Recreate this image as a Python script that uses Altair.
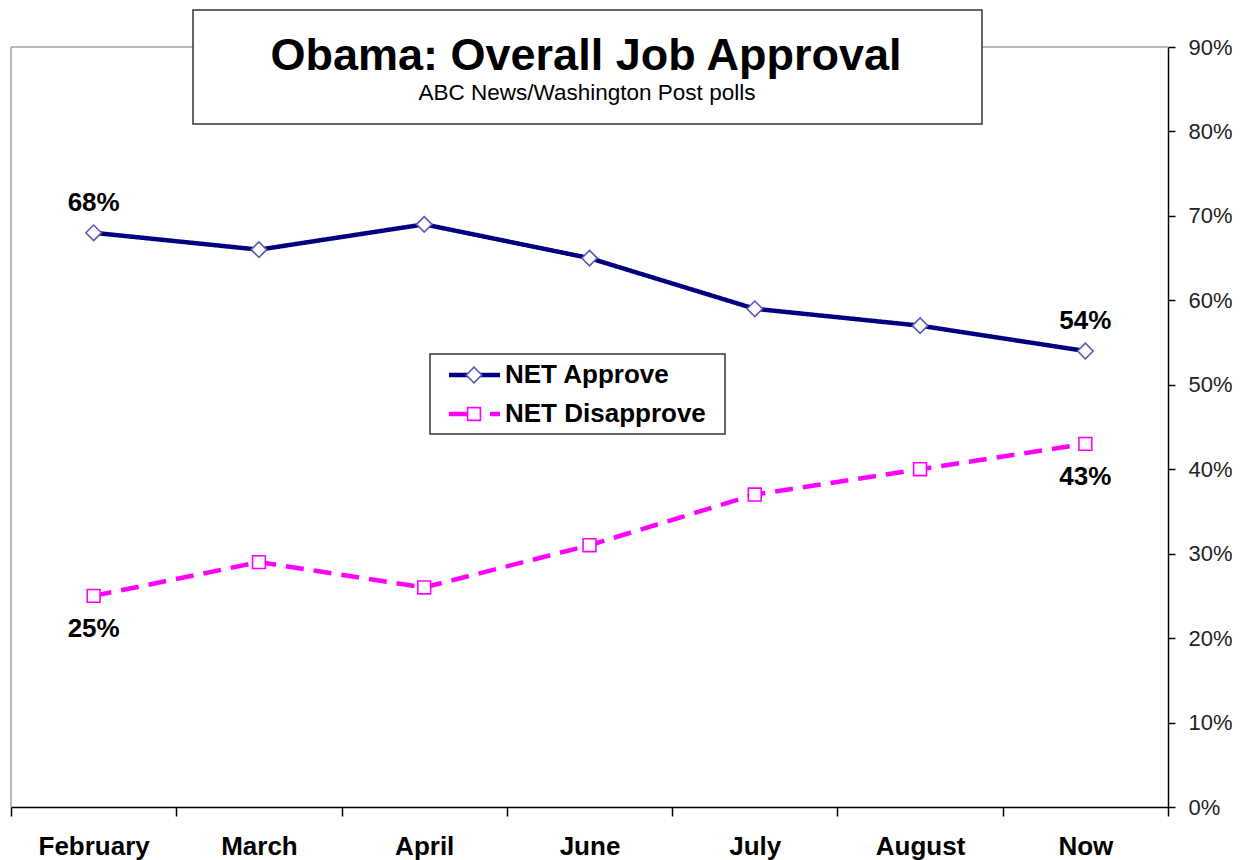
import altair as alt
import pandas as pd

months = ["February", "March", "April", "June", "July", "August", "Now"]
approve = [68, 66, 69, 65, 59, 57, 54]
disapprove = [25, 29, 26, 31, 37, 40, 43]
series_names = ["NET Approve", "NET Disapprove"]
y_ticks = [0, 10, 20, 30, 40, 50, 60, 70, 80, 90]
title_text = "Obama: Overall Job Approval"
subtitle_text = "ABC News/Washington Post polls"

FONT = "Liberation Sans"
NAVY = "#000080"
MAGENTA = "#ff00ff"
DIAMOND_STROKE = "#5a5ab4"

rows = []
for i, m in enumerate(months):
    rows.append({"month": m, "series": series_names[0], "value": approve[i]})
    rows.append({"month": m, "series": series_names[1], "value": disapprove[i]})
df = pd.DataFrame(rows)

above = pd.DataFrame([
    {"month": months[0], "value": approve[0], "label": f"{approve[0]}%"},
    {"month": months[-1], "value": approve[-1], "label": f"{approve[-1]}%"},
])
below = pd.DataFrame([
    {"month": months[0], "value": disapprove[0], "label": f"{disapprove[0]}%"},
    {"month": months[-1], "value": disapprove[-1], "label": f"{disapprove[-1]}%"},
])

x_enc = alt.X(
    "month:N", sort=months, bandPosition=0.5,
    scale=alt.Scale(type="band", paddingInner=0, paddingOuter=0),
    axis=alt.Axis(orient="bottom", title=None, labelAngle=0, tickBand="extent",
                  domainColor="black", domainWidth=1.5, tickColor="black",
                  tickWidth=1.5, tickSize=9, labelFont=FONT, labelFontSize=26,
                  labelFontWeight="bold", labelColor="black", labelPadding=17,
                  grid=False),
)
y_enc = alt.Y(
    "value:Q", scale=alt.Scale(domain=[0, 90], nice=False, zero=True),
    axis=alt.Axis(orient="right", title=None, values=y_ticks,
                  labelExpr="datum.value + '%'", domainColor="black",
                  domainWidth=1.5, tickColor="black", tickWidth=1.5, tickSize=7,
                  labelFont=FONT, labelFontSize=22, labelColor="#222222",
                  labelPadding=13, grid=False),
)

one = alt.Data(values=[{"k": 0}])

top_border = alt.Chart(one).mark_rule(color="#a0a0a0", strokeWidth=1.5).encode(
    x=alt.value(0), x2=alt.value(1157), y=alt.value(0))
left_border = alt.Chart(one).mark_rule(color="#a0a0a0", strokeWidth=1.5).encode(
    x=alt.value(0), y=alt.value(0), y2=alt.value(760))

lines = alt.Chart(df).mark_line(strokeWidth=4.5).encode(
    x=x_enc, y=y_enc,
    color=alt.Color("series:N", scale=alt.Scale(domain=series_names, range=[NAVY, MAGENTA]), legend=None),
    strokeDash=alt.StrokeDash("series:N", scale=alt.Scale(domain=series_names, range=[[1, 0], [18, 10]]), legend=None),
    detail="series:N",
)

points = alt.Chart(df).mark_point(filled=False, fill="white", fillOpacity=1, opacity=1, strokeWidth=1.6).encode(
    x=x_enc, y=y_enc,
    shape=alt.Shape("series:N", scale=alt.Scale(domain=series_names, range=["diamond", "square"]), legend=None),
    stroke=alt.Stroke("series:N", scale=alt.Scale(domain=series_names, range=[DIAMOND_STROKE, MAGENTA]), legend=None),
    size=alt.Size("series:N", scale=alt.Scale(domain=series_names, range=[240, 165]), legend=None),
)

labels_above = alt.Chart(above).mark_text(font=FONT, fontSize=26, fontWeight="bold", color="black", dy=-30).encode(
    x=x_enc, y=y_enc, text="label:N")
labels_below = alt.Chart(below).mark_text(font=FONT, fontSize=26, fontWeight="bold", color="black", dy=33).encode(
    x=x_enc, y=y_enc, text="label:N")

title_box = alt.Chart(one).mark_rect(fill="white", stroke="#333333", strokeWidth=1.5).encode(
    x=alt.value(182), x2=alt.value(971), y=alt.value(-37), y2=alt.value(77))
title = alt.Chart(one).mark_text(text=title_text, font=FONT, fontSize=45, fontWeight="bold",
                                 color="black", align="center", baseline="alphabetic").encode(
    x=alt.value(575), y=alt.value(23))
subtitle = alt.Chart(one).mark_text(text=subtitle_text, font=FONT, fontSize=22.5,
                                    color="black", align="center", baseline="alphabetic").encode(
    x=alt.value(576), y=alt.value(53))

legend_box = alt.Chart(one).mark_rect(fill="white", stroke="#333333", strokeWidth=1.5).encode(
    x=alt.value(419), x2=alt.value(714), y=alt.value(307), y2=alt.value(387))
leg_line1 = alt.Chart(one).mark_rule(color=NAVY, strokeWidth=4.5).encode(
    x=alt.value(438), x2=alt.value(489), y=alt.value(328))
leg_pt1 = alt.Chart(one).mark_point(shape="diamond", filled=False, fill="white", fillOpacity=1, opacity=1,
                                    stroke=DIAMOND_STROKE, strokeWidth=1.6, size=240).encode(
    x=alt.value(463), y=alt.value(328))
leg_line2a = alt.Chart(one).mark_rule(color=MAGENTA, strokeWidth=4.5).encode(
    x=alt.value(438), x2=alt.value(457), y=alt.value(367))
leg_line2b = alt.Chart(one).mark_rule(color=MAGENTA, strokeWidth=4.5).encode(
    x=alt.value(479), x2=alt.value(489), y=alt.value(367))
leg_pt2 = alt.Chart(one).mark_point(shape="square", filled=False, fill="white", fillOpacity=1, opacity=1,
                                    stroke=MAGENTA, strokeWidth=1.6, size=165).encode(
    x=alt.value(463), y=alt.value(367))
leg_text1 = alt.Chart(one).mark_text(text=series_names[0], font=FONT, fontSize=26, fontWeight="bold",
                                     color="black", align="left", baseline="middle").encode(
    x=alt.value(494), y=alt.value(328))
leg_text2 = alt.Chart(one).mark_text(text=series_names[1], font=FONT, fontSize=26, fontWeight="bold",
                                     color="black", align="left", baseline="middle").encode(
    x=alt.value(494), y=alt.value(367))

chart = alt.layer(
    top_border, left_border, lines, points, labels_above, labels_below,
    title_box, title, subtitle,
    legend_box, leg_line1, leg_pt1, leg_line2a, leg_line2b, leg_pt2, leg_text1, leg_text2,
).properties(
    width=1157, height=760,
    padding={"left": 3, "top": 39, "right": 64, "bottom": 53},
    autosize=alt.AutoSizeParams(type="none"),
    background="white",
).configure_view(stroke=None)

chart.save("out.html", embed_options={"renderer": "svg", "actions": False})
